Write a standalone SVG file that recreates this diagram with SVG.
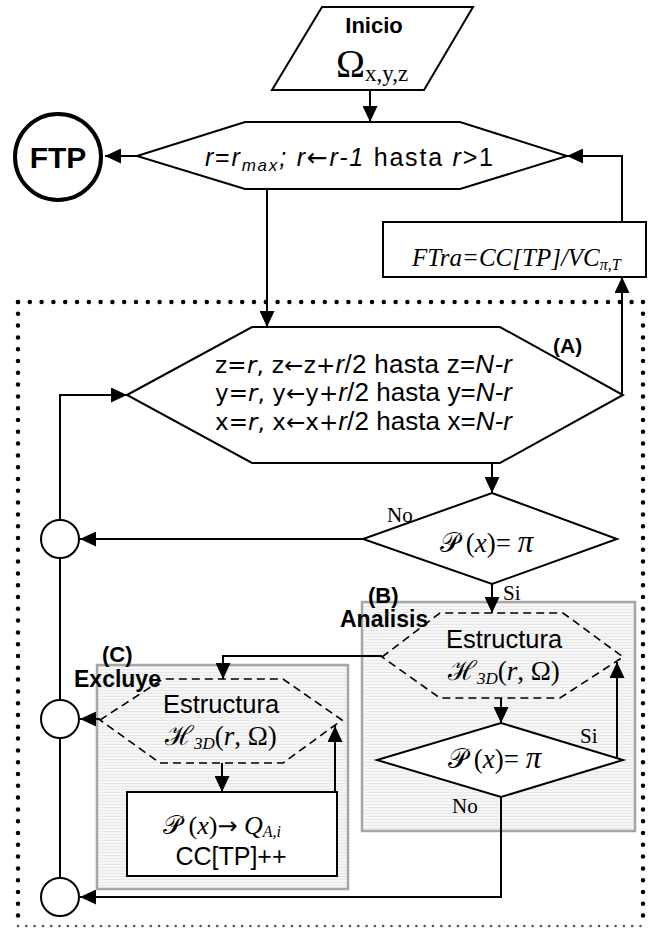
<svg xmlns="http://www.w3.org/2000/svg" width="651" height="928" viewBox="0 0 651 928">
  <style>
    .ln { fill: none; stroke: #000; stroke-width: 2; }
    .arr { fill: none; stroke: #000; stroke-width: 2; marker-end: url(#ah); }
    .sh { fill: #fff; stroke: #000; stroke-width: 2; }
    .dash { fill: none; stroke: #000; stroke-width: 1.6; stroke-dasharray: 8 5; }
    .grp { fill: url(#stripe); stroke: #a6a6a6; stroke-width: 2.5; }
    .sans { font-family: "Liberation Sans", Arial, sans-serif; fill: #000; }
    .dv { font-family: "DejaVu Sans", sans-serif; fill: #000; }
    .bold { font-family: "Liberation Sans", Arial, sans-serif; font-weight: bold; fill: #000; }
    .math { font-family: "Liberation Serif", "DejaVu Serif", serif; fill: #000; }
    .it { font-style: italic; }
    .dots { fill: none; stroke: #000; stroke-width: 4.5; stroke-linecap: round; stroke-dasharray: 0 11.8; }
    .dots2 { fill: none; stroke: #555; stroke-width: 2.6; stroke-linecap: round; stroke-dasharray: 0 8.3; }
  </style>
  <defs>
    <marker id="ah" markerWidth="16" markerHeight="15" refX="16" refY="7.5" orient="auto" markerUnits="userSpaceOnUse">
      <path d="M0,0 L16,7.5 L0,15 z" fill="#000"/>
    </marker>
    <pattern id="stripe" width="4" height="3" patternUnits="userSpaceOnUse">
      <rect width="4" height="3" fill="#f6f6f6"/>
      <rect width="4" height="1" fill="#e8e8e8"/>
    </pattern>
  </defs>

  <rect width="651" height="928" fill="#fff"/>

  <!-- dotted frame of the inner loop -->
  <g id="frame">
    <path class="dots" d="M18,302 L643,302"/>
    <path class="dots" d="M18,302 L18,925"/>
    <path class="dots" d="M643,302 L643,925"/>
    <path class="dots2" d="M18,926 L643,926"/>
  </g>

  <!-- grouping panels -->
  <g id="panel-b">
    <rect class="grp" x="362" y="602" width="273" height="229"/>
  </g>
  <g id="panel-c">
    <rect class="grp" x="97" y="665" width="251" height="224"/>
  </g>

  <!-- connectors -->
  <g id="connectors">
    <path class="arr" d="M370,90 L370,122"/>
    <path class="arr" d="M137,156 L105,156"/>
    <path class="arr" d="M622,222 L622,156 L567,156"/>
    <path class="arr" d="M267,189 L267,327"/>
    <path class="arr" d="M622,395 L622,277"/>
    <path class="arr" d="M492,463 L492,493"/>
    <path class="arr" d="M363,539 L80,539"/>
    <path class="arr" d="M60,878 L60,395 L127,395"/>
    <path class="arr" d="M492,584 L492,613"/>
    <path class="arr" d="M501,698 L501,723"/>
    <path class="arr" d="M617,758 L617,662"/>
    <path class="arr" d="M501,797 L501,897 L80,897"/>
    <path class="arr" d="M382,656 L223,656 L223,679"/>
    <path class="arr" d="M100,719 L80,719"/>
    <path class="arr" d="M222,763 L222,792"/>
    <path class="arr" d="M335,792 L335,726"/>
  </g>

  <!-- start / input -->
  <g id="inicio">
    <polygon class="sh" points="322,7 473,7 424,90 272,90"/>
    <text class="bold" x="374" y="33" font-size="22" text-anchor="middle">Inicio</text>
    <text class="math" x="336" y="77" font-size="39">Ω<tspan font-size="23" dy="4">x,y,z</tspan></text>
  </g>

  <!-- end terminal -->
  <g id="ftp">
    <circle cx="58" cy="157" r="43" fill="#fff" stroke="#000" stroke-width="4"/>
    <text class="bold" x="58" y="168" font-size="30" text-anchor="middle">FTP</text>
  </g>

  <!-- outer loop over r -->
  <g id="loop-r">
    <polygon class="sh" points="137,156 245,122 460,122 567,156 460,189 245,189"/>
    <text class="sans" x="205" y="166" font-size="25" textLength="288" lengthAdjust="spacing"><tspan class="it">r</tspan>=<tspan class="it">r</tspan><tspan class="it" font-size="17" dy="5">max</tspan><tspan class="it" dy="-5">; r</tspan><tspan class="dv">←</tspan><tspan class="it">r-1</tspan> hasta <tspan class="it">r</tspan>&gt;1</text>
  </g>

  <!-- ratio update -->
  <g id="ftra">
    <rect class="sh" x="383" y="222" width="263" height="55"/>
    <text class="math it" x="412" y="266" font-size="25">FTra=CC[TP]/VC<tspan font-size="16" dy="4">π,T</tspan></text>
  </g>

  <!-- (A) triple loop over x, y, z -->
  <g id="loop-xyz">
    <polygon class="sh" points="127,395 252,327 500,327 623,395 500,463 252,463"/>
    <text class="bold" x="553" y="353" font-size="21">(A)</text>
    <text x="215" y="373" textLength="297" lengthAdjust="spacing"><tspan class="dv" font-size="23">z=<tspan class="it">r</tspan>, z←z+</tspan><tspan class="sans" font-size="26"><tspan class="it">r</tspan>/2 hasta z=<tspan class="it">N-r</tspan></tspan></text>
    <text x="215" y="401" textLength="297" lengthAdjust="spacing"><tspan class="dv" font-size="23">y=<tspan class="it">r</tspan>, y←y+</tspan><tspan class="sans" font-size="26"><tspan class="it">r</tspan>/2 hasta y=<tspan class="it">N-r</tspan></tspan></text>
    <text x="215" y="430" textLength="297" lengthAdjust="spacing"><tspan class="dv" font-size="23">x=<tspan class="it">r</tspan>, x←x+</tspan><tspan class="sans" font-size="26"><tspan class="it">r</tspan>/2 hasta x=<tspan class="it">N-r</tspan></tspan></text>
  </g>

  <!-- first test -->
  <g id="test-1">
    <polygon class="sh" points="492,493 617,539 492,584 363,539"/>
    <text class="math" x="440" y="552" font-size="27">𝒫 (<tspan class="it">x</tspan>)= <tspan class="it" font-size="31">π</tspan></text>
    <text class="math" x="387" y="522" font-size="21">No</text>
    <text class="math" x="503" y="600" font-size="21">Si</text>
  </g>

  <!-- (B) analysis -->
  <g id="analisis">
    <text class="bold" x="368" y="603" font-size="22">(B)</text>
    <text class="bold" x="340" y="627" font-size="23">Analisis</text>
    <polygon class="dash" points="382,657 440,613 563,613 623,657 560,698 440,698"/>
    <text class="sans" x="504" y="648" font-size="25.5" text-anchor="middle">Estructura</text>
    <text class="math" x="448" y="680" font-size="27">ℋ<tspan class="it" font-size="17" dy="4">3D</tspan><tspan dy="-4">(<tspan class="it">r</tspan>, Ω)</tspan></text>
  </g>

  <!-- second test -->
  <g id="test-2">
    <polygon class="sh" points="501,723 623,760 501,797 377,760"/>
    <text class="math" x="448" y="768" font-size="27">𝒫 (<tspan class="it">x</tspan>)= <tspan class="it" font-size="31">π</tspan></text>
    <text class="math" x="580" y="743" font-size="21">Si</text>
    <text class="math" x="452" y="813" font-size="21">No</text>
  </g>

  <!-- (C) exclusion -->
  <g id="excluye">
    <text class="bold" x="102" y="662" font-size="22">(C)</text>
    <text class="bold" x="74" y="687" font-size="23">Excluye</text>
    <polygon class="dash" points="100,720 163,679 283,679 342,720 283,763 160,763"/>
    <text class="sans" x="221" y="713" font-size="25.5" text-anchor="middle">Estructura</text>
    <text class="math" x="165" y="745" font-size="27">ℋ<tspan class="it" font-size="17" dy="4">3D</tspan><tspan dy="-4">(<tspan class="it">r</tspan>, Ω)</tspan></text>
  </g>

  <!-- assignment and counter -->
  <g id="asigna">
    <rect class="sh" x="127" y="792" width="210" height="84"/>
    <text class="math" x="163" y="834" font-size="26">𝒫 (<tspan class="it">x</tspan>)<tspan class="dv" font-size="24">→</tspan> <tspan class="it">Q</tspan><tspan class="it" font-size="16" dy="3">A,i</tspan></text>
    <text class="sans" x="231" y="865" font-size="25" text-anchor="middle">CC[TP]++</text>
  </g>

  <!-- junction circles -->
  <g id="junction-1"><circle class="sh" cx="60" cy="539" r="19"/></g>
  <g id="junction-2"><circle class="sh" cx="60" cy="719" r="19"/></g>
  <g id="junction-3"><circle class="sh" cx="60" cy="897" r="19"/></g>
</svg>
